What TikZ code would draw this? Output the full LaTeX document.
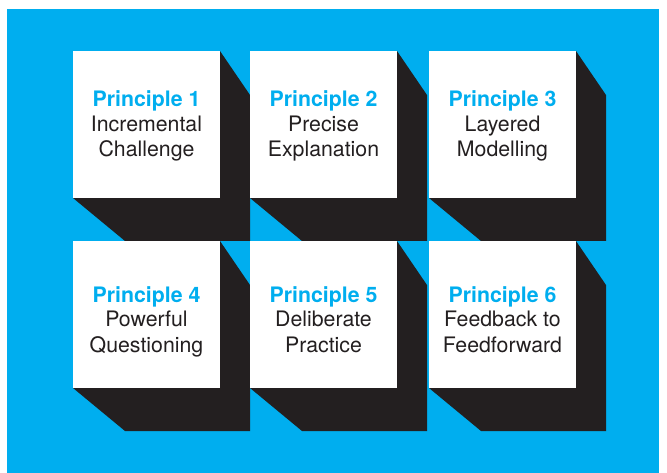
\documentclass[tikz,border=0pt]{standalone}
\usepackage{fontspec}
\setmainfont{TeX Gyre Heros}
\usetikzlibrary{backgrounds,calc}
\definecolor{bg}{HTML}{00AEEF}
\definecolor{ink}{HTML}{231F20}
\definecolor{ptitle}{HTML}{00AEEF}
\begin{document}
\begin{tikzpicture}[x=1pt,y=-1pt,
  card/.style={draw=none,fill=white,minimum width=147pt,minimum height=147pt,inner sep=0pt,outer sep=0pt,anchor=north west},
  cardtext/.style={align=center,text=ink,font=\fontsize{21.3}{25}\selectfont,inner sep=0pt,anchor=base},
  ttl/.style={text=ptitle,font=\bfseries}
]
\useasboundingbox (0,0) rectangle (667,473);
% cards
\node[card] (p1) at (73,51) {};
\node[card] (p2) at (250,51) {};
\node[card] (p3) at (429,51) {};
\node[card] (p4) at (73,241) {};
\node[card] (p5) at (250,241) {};
\node[card] (p6) at (429,241) {};
% texts (anchor = baseline of the last line)
\node[cardtext] (t1) at (146.5,157) {{\color{ptitle}\bfseries Principle 1}\\Incremental\\Challenge};
\node[cardtext] (t2) at (323.5,157) {{\color{ptitle}\bfseries Principle 2}\\Precise\\Explanation};
\node[cardtext] (t3) at (502.5,157) {{\color{ptitle}\bfseries Principle 3}\\Layered\\Modelling};
\node[cardtext] (t4) at (146.5,352) {{\color{ptitle}\bfseries Principle 4}\\Powerful\\Questioning};
\node[cardtext] (t5) at (323.5,352) {{\color{ptitle}\bfseries Principle 5}\\Deliberate\\Practice};
\node[cardtext] (t6) at (502.5,352) {{\color{ptitle}\bfseries Principle 6}\\Feedback to\\Feedforward};
\begin{scope}[on background layer]
  \fill[bg] (7,9) rectangle (659,473);
  \foreach \i in {1,...,6}{
    \fill[ink] (p\i.north east) -- ($(p\i.north east)+(30,44)$) -- ($(p\i.south east)+(30,43)$)
      -- ($(p\i.south west)+(52,43)$) -- (p\i.south west) -- cycle;
  }
\end{scope}
\end{tikzpicture}
\end{document}
